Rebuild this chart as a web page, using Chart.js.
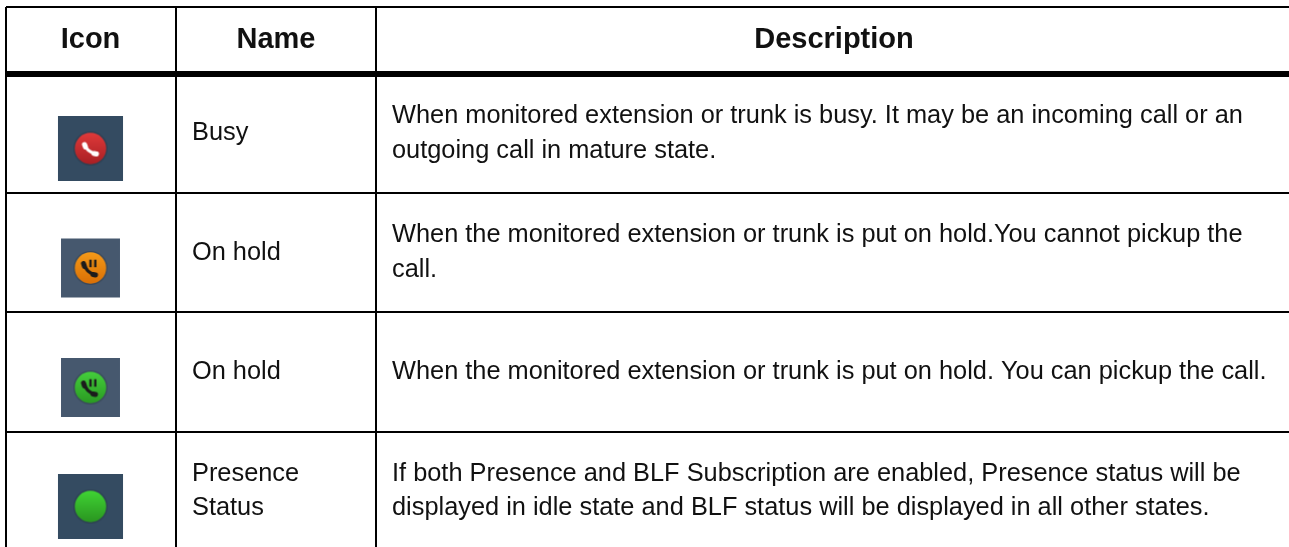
<!DOCTYPE html>
<html>
<head>
<meta charset="utf-8">
<title>BLF icons</title>
<script src="https://cdn.jsdelivr.net/npm/chart.js@4/dist/chart.umd.min.js"></script>
<style>
  html, body { margin: 0; padding: 0; background: #fff; overflow: hidden; }
  canvas { display: block; }
</style>
</head>
<body>
<canvas id="iconTable" width="1289" height="547"></canvas>
<script>
// table content
const headers = ['Icon', 'Name', 'Description'];
const names = [['Busy'], ['On hold'], ['On hold'], ['Presence', 'Status']];
const descriptions = [
  ['When monitored extension or trunk is busy. It may be an incoming call or an', 'outgoing call in mature state.'],
  ['When the monitored extension or trunk is put on hold.You cannot pickup the', 'call.'],
  ['When the monitored extension or trunk is put on hold. You can pickup the call.'],
  ['If both Presence and BLF Subscription are enabled, Presence status will be', 'displayed in idle state and BLF status will be displayed in all other states.']
];
const lampColors = [['#e03a3a', '#a81f24'], ['#f59a18', '#d96f05'], ['#45cf3c', '#2a9a22'], ['#40d434', '#2a9420']];
const tileColors = ['#344b61', '#46586e', '#46586e', '#344b61'];
const glyphs = ['busy', 'hold', 'hold', null];

// axes run in page pixels, ticks are the table rules
const columnTicks = [6, 176, 376];
const rowTicks = [7, 74, 193, 312, 432];
const iconX = [90.5, 90.5, 90.5, 90.5];
const iconY = [148.5, 268, 387.5, 506.5];
const tileRadius = [46, 41.7, 41.7, 46];

// little canvas used as point style for the round lamp
function makeLamp(colors, glyph) {
  const c = document.createElement('canvas');
  c.width = c.height = 40;
  const g = c.getContext('2d');
  g.translate(20, 20);
  g.beginPath();
  g.arc(0, 0, 17, 0, Math.PI * 2);
  g.fillStyle = 'rgba(30,40,50,0.3)';
  g.fill();
  const grad = g.createLinearGradient(0, -16, 0, 16);
  grad.addColorStop(0, colors[0]);
  grad.addColorStop(1, colors[1]);
  g.beginPath();
  g.arc(0, 0, 15.7, 0, Math.PI * 2);
  g.fillStyle = grad;
  g.fill();

  if (glyph) {
    const ink = glyph === 'busy' ? '#fff' : '#1c1c1c';
    g.strokeStyle = ink;
    g.lineCap = 'round';
    g.lineWidth = 3.2;
    g.beginPath();
    if (glyph === 'busy') {
      g.moveTo(-6, -4);
      g.quadraticCurveTo(-3.5, 3.5, 6, 5.5);
    } else {
      g.moveTo(-7, -5);
      g.quadraticCurveTo(-4.5, 4.5, 5, 7);
    }
    g.stroke();
    // earpiece and mouthpiece are thicker
    g.lineWidth = 5;
    g.beginPath();
    if (glyph === 'busy') {
      g.moveTo(-6, -4);
      g.lineTo(-5, -1.5);
      g.moveTo(3.5, 5);
      g.lineTo(6, 5.5);
    } else {
      g.moveTo(-7, -4.5);
      g.lineTo(-6, -1.5);
      g.moveTo(2.5, 6.5);
      g.lineTo(5, 7);
    }
    g.stroke();
    if (glyph === 'hold') {
      g.fillStyle = ink;
      g.fillRect(-1.2, -8.3, 2.4, 7.5);
      g.fillRect(3.6, -8.3, 2.4, 7.5);
    }
  }
  return c;
}

// text is written on top, placed with the chart scales
const tableText = {
  id: 'tableText',
  afterDraw(chart) {
    const { ctx, scales: { x, y } } = chart;
    const put = (str, px, py) => ctx.fillText(str, x.getPixelForValue(px), y.getPixelForValue(py));
    ctx.save();
    ctx.fillStyle = '#111';
    ctx.textBaseline = 'alphabetic';

    ctx.font = 'bold 29px "Liberation Sans", Arial, sans-serif';
    ctx.textAlign = 'center';
    put(headers[0], 90.5, 48);
    put(headers[1], 276, 48);
    put(headers[2], 834, 48);

    const nameY = [[140], [260], [379], [481, 515]];
    const descY = [[123, 158], [242, 277], [379], [481, 515]];
    ctx.textAlign = 'left';
    ctx.font = '25.37px "Liberation Sans", Arial, sans-serif';
    names.forEach((lines, r) => lines.forEach((s, i) => put(s, 192, nameY[r][i])));
    descriptions.forEach((lines, r) => lines.forEach((s, i) => put(s, 392, descY[r][i])));
    ctx.restore();
  }
};

new Chart(document.getElementById('iconTable'), {
  type: 'scatter',
  data: {
    datasets: [
      {
        label: 'Lamp',
        data: iconX.map((v, i) => ({ x: v, y: iconY[i] })),
        pointStyle: lampColors.map((c, i) => makeLamp(c, glyphs[i])),
        pointRadius: 20
      },
      {
        label: 'Tile',
        data: iconX.map((v, i) => ({ x: v, y: iconY[i] })),
        pointStyle: 'rect',
        pointRadius: tileRadius,
        pointBorderWidth: 0,
        borderWidth: 0,
        backgroundColor: tileColors
      }
    ]
  },
  options: {
    responsive: false,
    animation: false,
    layout: { autoPadding: false, padding: { left: 6, top: 7, right: 0, bottom: 0 } },
    plugins: { legend: { display: false }, tooltip: { enabled: false } },
    scales: {
      x: {
        type: 'linear',
        min: 6,
        max: 1289,
        afterBuildTicks: axis => { axis.ticks = columnTicks.map(value => ({ value })); },
        ticks: { display: false },
        border: { display: false },
        grid: { color: '#000', lineWidth: 2, drawTicks: false }
      },
      y: {
        type: 'linear',
        reverse: true,
        min: 7,
        max: 547,
        afterBuildTicks: axis => { axis.ticks = rowTicks.map(value => ({ value })); },
        ticks: { display: false },
        border: { display: false },
        grid: {
          color: '#000',
          lineWidth: c => (c.tick && c.tick.value === 74 ? 6 : 2),
          drawTicks: false
        }
      }
    }
  },
  plugins: [tableText]
});
</script>
</body>
</html>
